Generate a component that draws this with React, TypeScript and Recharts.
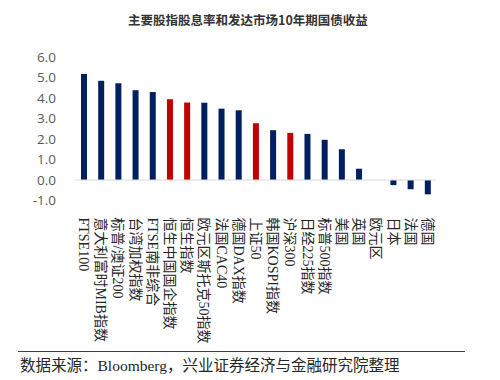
import { Bar, BarChart, Cell, ReferenceLine, XAxis, YAxis } from "recharts";

const categories = [
  "FTSE100",
  "意大利富时MIB指数",
  "标普/澳证200",
  "台湾加权指数",
  "FTSE南非综合",
  "恒生中国国企指数",
  "恒生指数",
  "欧元区斯托克50指数",
  "法国CAC40",
  "德国DAX指数",
  "上证50",
  "韩国KOSPI指数",
  "沪深300",
  "日经225指数",
  "标普500指数",
  "美国",
  "英国",
  "欧元区",
  "日本",
  "法国",
  "德国",
];

const values = [
  5.17, 4.84, 4.72, 4.38, 4.29, 3.94, 3.78, 3.77, 3.48, 3.4, 2.77, 2.43, 2.3,
  2.25, 1.96, 1.5, 0.55, 0, -0.25, -0.45, -0.7,
];

// red bars = mainland / HK indices
const highlighted = ["恒生中国国企指数", "恒生指数", "上证50", "沪深300"];

const yTicks = [-1, 0, 1, 2, 3, 4, 5, 6];

const data = categories.map((name, i) => ({ name, value: values[i] }));

const NAVY = "#002060";
const RED = "#C00000";

function CategoryTick({ x, y, payload }: any) {
  return (
    <g transform={`translate(${x},${y})`}>
      <text
        transform="rotate(90)"
        x={9}
        y={0}
        dominantBaseline="central"
        textAnchor="start"
        fontSize={14}
        fill="#262626"
        fontFamily="'Liberation Serif', 'Noto Sans CJK SC', serif"
      >
        {payload.value}
      </text>
    </g>
  );
}

export default function App() {
  return (
    <div
      style={{
        position: "absolute",
        left: 0,
        top: 0,
        width: 500,
        height: 380,
        background: "#fff",
        overflow: "hidden",
      }}
    >
      <div
        style={{
          position: "absolute",
          top: 10,
          left: 0,
          width: 496,
          textAlign: "center",
          fontFamily: "'Noto Sans CJK SC', sans-serif",
          fontWeight: 700,
          fontSize: 12.5,
          color: "#333",
        }}
      >
        主要股指股息率和发达市场10年期国债收益
      </div>
      <BarChart
        width={500}
        height={348}
        data={data}
        margin={{ top: 57, right: 64, bottom: 0, left: 0 }}
        style={{ position: "absolute", left: 0, top: 0 }}
      >
        <YAxis
          width={75}
          domain={[-1, 6]}
          ticks={yTicks}
          interval={0}
          axisLine={false}
          tickLine={false}
          tickSize={0}
          tickMargin={19}
          tickFormatter={(v: number) => v.toFixed(1)}
          tick={{ fontSize: 13.5, fill: "#595959", fontFamily: "'Open Sans', sans-serif" }}
        />
        <XAxis
          dataKey="name"
          height={147.5}
          interval={0}
          axisLine={false}
          tickLine={false}
          tick={<CategoryTick />}
        />
        <ReferenceLine y={0} stroke="#d9d9d9" strokeWidth={1} />
        <Bar dataKey="value" barSize={6} isAnimationActive={false}>
          {data.map((d) => (
            <Cell key={d.name} fill={highlighted.includes(d.name) ? RED : NAVY} />
          ))}
        </Bar>
      </BarChart>
      <div
        style={{
          position: "absolute",
          left: 18,
          top: 351,
          width: 447,
          borderTop: "1.5px solid #404040",
        }}
      />
      <div
        style={{
          position: "absolute",
          left: 20,
          top: 353,
          fontSize: 15.5,
          color: "#262626",
          fontFamily: "'Liberation Serif', 'Noto Sans CJK SC', serif",
          whiteSpace: "nowrap",
        }}
      >
        数据来源：Bloomberg，兴业证券经济与金融研究院整理
      </div>
    </div>
  );
}
